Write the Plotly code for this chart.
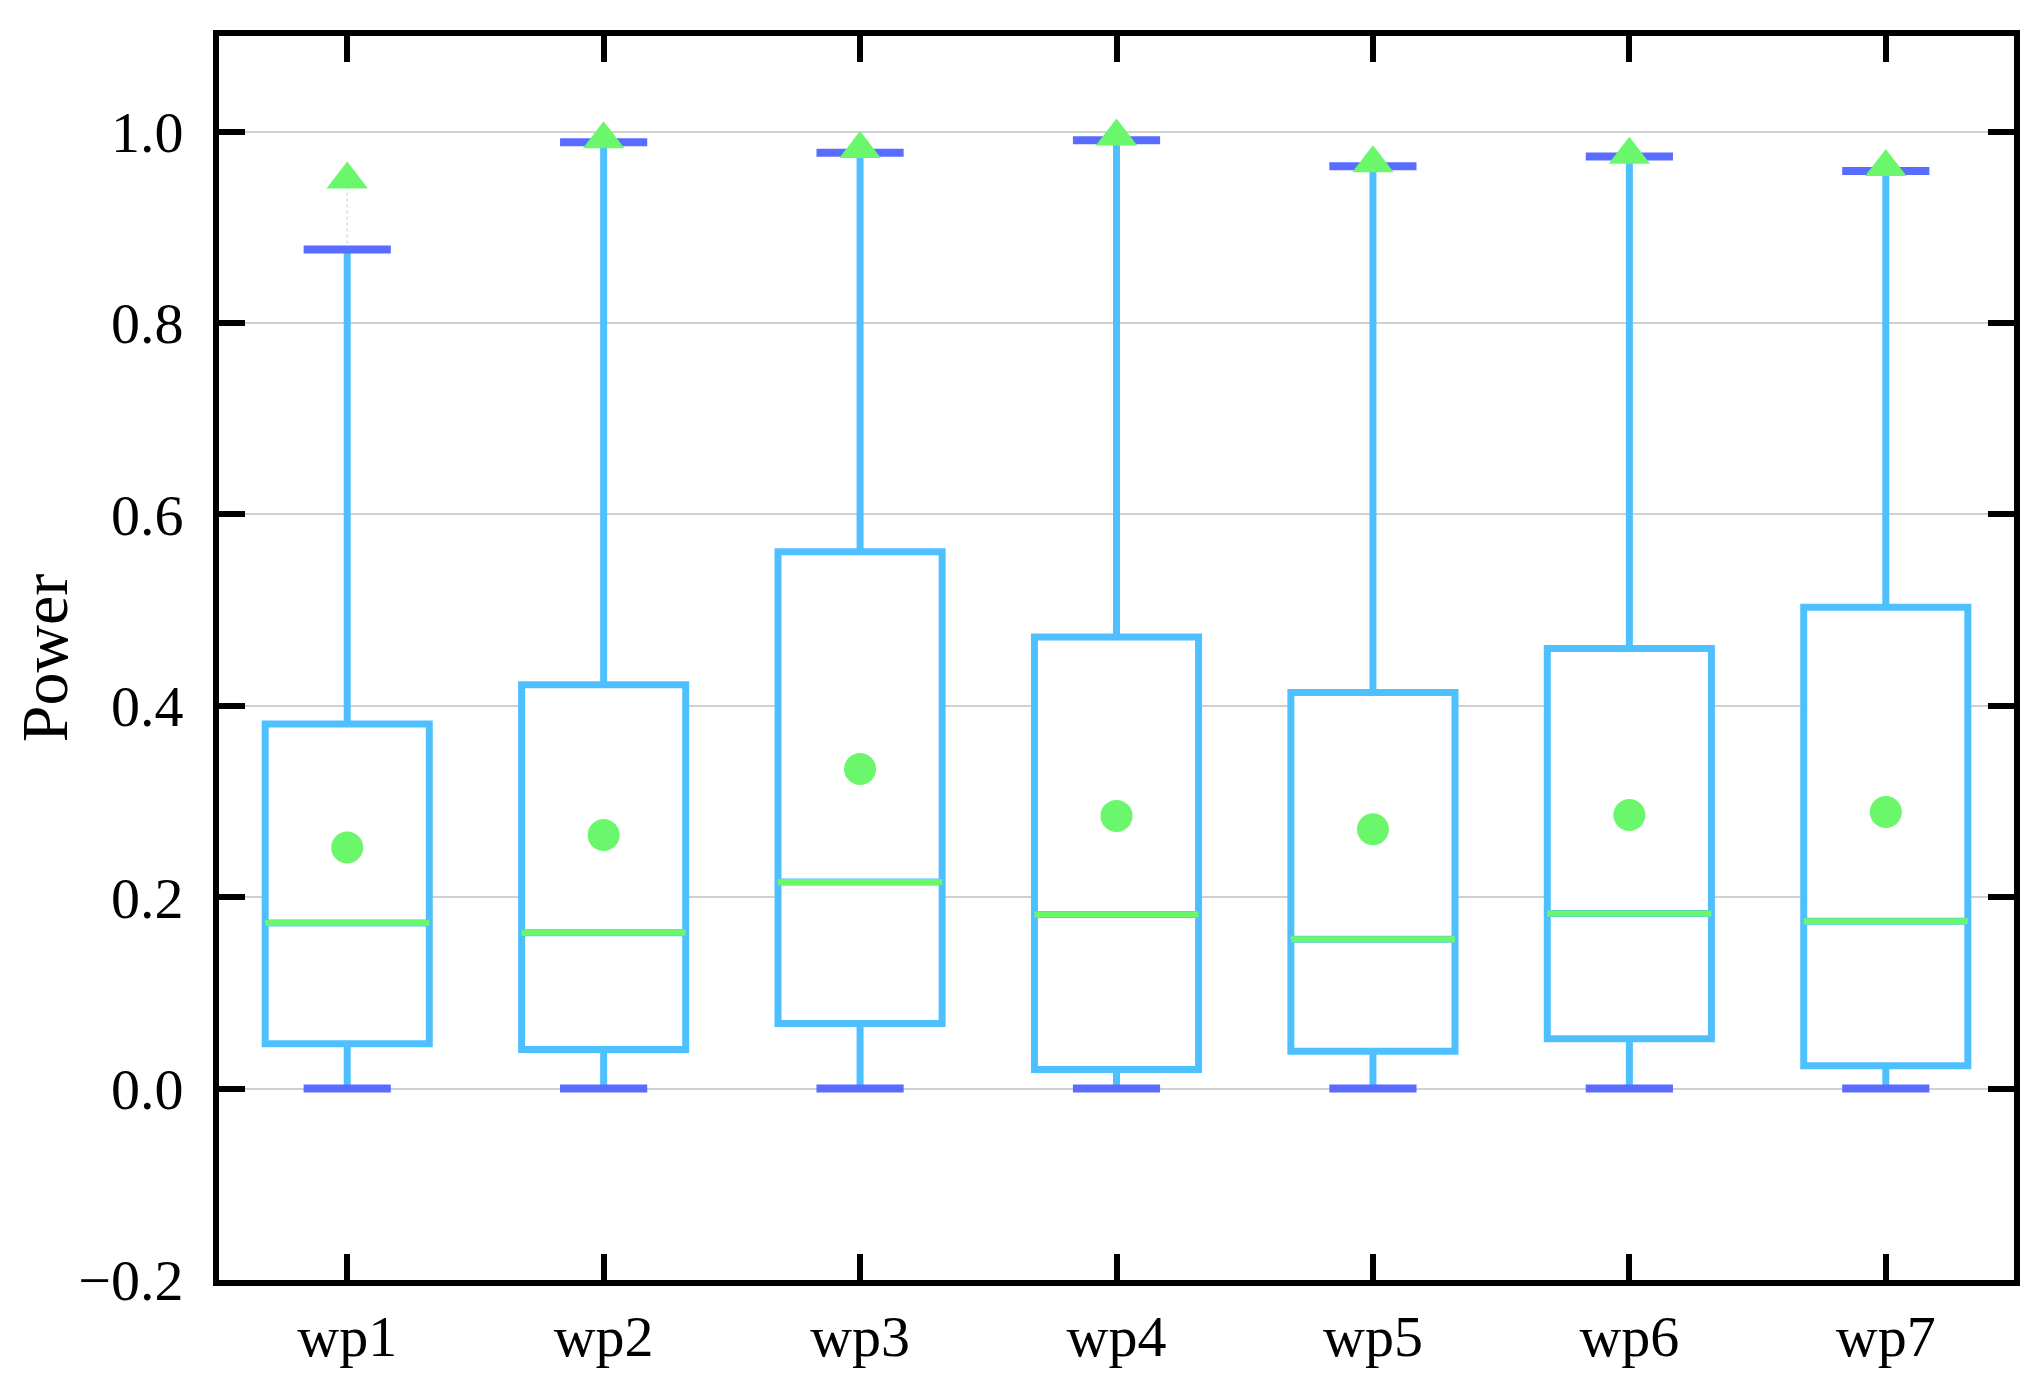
import plotly.graph_objects as go

categories = ["wp1", "wp2", "wp3", "wp4", "wp5", "wp6", "wp7"]
lower_whisker = [0.0, 0.0, 0.0, 0.0, 0.0, 0.0, 0.0]
q1 = [0.047, 0.041, 0.068, 0.020, 0.039, 0.052, 0.024]
median = [0.173, 0.163, 0.216, 0.182, 0.156, 0.183, 0.175]
q3 = [0.381, 0.422, 0.561, 0.472, 0.414, 0.460, 0.503]
upper_whisker = [0.877, 0.989, 0.978, 0.991, 0.964, 0.974, 0.959]
mean = [0.252, 0.265, 0.334, 0.285, 0.271, 0.286, 0.289]
maximum = [0.950, 0.992, 0.982, 0.995, 0.967, 0.976, 0.963]

x = list(range(len(categories)))
BOX_W = 0.64
CAP_HALF = 0.17

BOX_C = "#4FC0FF"
CAP_C = "#5A6BFF"
GREEN = "#6BF76B"

fig = go.Figure()

# faint dotted connector from upper whisker to maximum
dx, dy = [], []
for xi, hi, mx_ in zip(x, upper_whisker, maximum):
    dx += [xi, xi, None]
    dy += [hi, mx_, None]
fig.add_trace(go.Scatter(x=dx, y=dy, mode="lines",
                         line=dict(color="#DCE4EC", width=2, dash="dot"),
                         showlegend=False))

fig.add_trace(go.Box(
    x=x, q1=q1, median=median, q3=q3,
    lowerfence=lower_whisker, upperfence=upper_whisker,
    width=BOX_W, whiskerwidth=0,
    line=dict(color=BOX_C, width=7),
    fillcolor="white", boxpoints=False, showlegend=False,
))

# median lines
mx, my = [], []
for xi, m in zip(x, median):
    mx += [xi - BOX_W / 2, xi + BOX_W / 2, None]
    my += [m, m, None]
fig.add_trace(go.Scatter(x=mx, y=my, mode="lines",
                         line=dict(color=GREEN, width=6), showlegend=False))

# whisker caps
cx, cy = [], []
for xi, lo, hi in zip(x, lower_whisker, upper_whisker):
    cx += [xi - CAP_HALF, xi + CAP_HALF, None, xi - CAP_HALF, xi + CAP_HALF, None]
    cy += [lo, lo, None, hi, hi, None]
fig.add_trace(go.Scatter(x=cx, y=cy, mode="lines",
                         line=dict(color=CAP_C, width=8), showlegend=False))

# mean markers
fig.add_trace(go.Scatter(x=x, y=mean, mode="markers",
                         marker=dict(symbol="circle", size=32, color=GREEN),
                         showlegend=False))
# max markers
fig.add_trace(go.Scatter(x=x, y=maximum, mode="markers",
                         marker=dict(symbol="triangle-up", size=36, color=GREEN),
                         showlegend=False))

font_family = "Liberation Serif"
fig.update_layout(
    width=2036, height=1395,
    margin=dict(l=211, r=30, t=28, b=123),
    paper_bgcolor="white", plot_bgcolor="white",
    font=dict(family=font_family, size=58, color="black"),
    hovermode=False,
)
fig.update_xaxes(
    range=[-0.5, 6.5], tickmode="array", tickvals=x, ticktext=categories,
    showline=True, linewidth=6, linecolor="black", mirror="ticks",
    ticks="inside", ticklen=26, tickwidth=6, tickcolor="black",
    showgrid=False, zeroline=False, ticklabelstandoff=0,
    tickfont=dict(family=font_family, size=58),
)
fig.update_yaxes(
    range=[-0.2, 1.1], tickmode="array",
    tickvals=[-0.2, 0.0, 0.2, 0.4, 0.6, 0.8, 1.0],
    ticktext=["\u22120.2", "0.0", "0.2", "0.4", "0.6", "0.8", "1.0"],
    showline=True, linewidth=6, linecolor="black", mirror="ticks",
    ticks="inside", ticklen=26, tickwidth=6, tickcolor="black",
    showgrid=True, gridcolor="#D0D0D0", gridwidth=2, zeroline=False,
    ticklabelstandoff=18,
    tickfont=dict(family=font_family, size=58),
    title=dict(text="Power", font=dict(family=font_family, size=66), standoff=0),
)

fig.write_html("out.html")
